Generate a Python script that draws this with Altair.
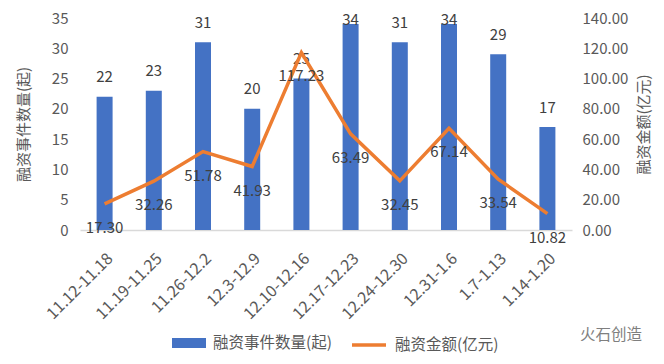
import altair as alt
import pandas as pd

weeks = ["11.12-11.18", "11.19-11.25", "11.26-12.2", "12.3-12.9", "12.10-12.16",
         "12.17-12.23", "12.24-12.30", "12.31-1.6", "1.7-1.13", "1.14-1.20"]
counts = [22, 23, 31, 20, 25, 34, 31, 34, 29, 17]
amounts = [17.30, 32.26, 51.78, 41.93, 117.23, 63.49, 32.45, 67.14, 33.54, 10.82]
series_names = ["融资事件数量(起)", "融资金额(亿元)"]
left_ticks = [0, 5, 10, 15, 20, 25, 30, 35]
right_ticks = [0, 20, 40, 60, 80, 100, 120, 140]

df = pd.DataFrame({"week": weeks, "count": counts, "amount": amounts,
                   "s_bar": series_names[0], "s_line": series_names[1]})

FONT = "Noto Sans CJK SC"
GRAY = "#595959"
BLUE = "#4472C4"
ORANGE = "#ED7D31"

x = alt.X("week:N", sort=weeks, title=None,
          scale=alt.Scale(paddingInner=0, paddingOuter=0),
          axis=alt.Axis(labelAngle=-45, labelFontSize=16, labelColor=GRAY,
                        ticks=False, domainColor="#D9D9D9", domainWidth=1.5,
                        labelPadding=20, labelFont=FONT, labelOverlap=False))

bar_legend = alt.Legend(
    title=None, orient="none", legendX=92, legendY=308, direction="horizontal",
    labelFontSize=15.5, labelColor=GRAY, labelFont=FONT, symbolSize=1156,
    symbolType="M-1,-0.3H1V0.3H-1Z", symbolStrokeWidth=0, labelOffset=7)
line_legend = alt.Legend(
    title=None, orient="none", legendX=270, legendY=308, direction="horizontal",
    labelFontSize=15.5, labelColor=GRAY, labelFont=FONT, symbolSize=1156,
    symbolType="stroke", symbolStrokeWidth=3.5, labelOffset=7)

left_scale = alt.Scale(domain=[0, 35], nice=False)
right_scale = alt.Scale(domain=[0, 140], nice=False)

left_axis = alt.Axis(values=left_ticks, grid=False, domain=False, ticks=False,
                     labelFontSize=15, labelColor=GRAY, labelPadding=12,
                     labelOverlap=False,
                     title="融资事件数量(起)", titleFontSize=15, titleColor=GRAY,
                     titleFontWeight="normal", titlePadding=20, titleFont=FONT,
                     labelFont=FONT)
right_axis = alt.Axis(orient="right", values=right_ticks, format=".2f", grid=False,
                      domain=False, ticks=False, labelFontSize=15, labelColor=GRAY,
                      labelPadding=10, labelOverlap=False,
                      title="融资金额(亿元)", titleFontSize=15,
                      titleColor=GRAY, titleFontWeight="normal", titlePadding=24,
                      titleAngle=270, titleFont=FONT, labelFont=FONT)

bars = alt.Chart(df).mark_bar(size=16).encode(
    x=x, y=alt.Y("count:Q", scale=left_scale, axis=left_axis),
    color=alt.Color("s_bar:N", scale=alt.Scale(domain=[series_names[0]], range=[BLUE]),
                    legend=bar_legend))
bar_text = alt.Chart(df).transform_calculate(
    label_y="min(datum.count, 31.5)"
).mark_text(fontSize=15, color="#404040", dy=-19.5, baseline="middle", font=FONT).encode(
    x=x, y=alt.Y("label_y:Q", scale=left_scale, axis=left_axis), text="count:Q")
left = alt.layer(bars, bar_text)

line = alt.Chart(df).mark_line(strokeWidth=3.5).encode(
    x=x, y=alt.Y("amount:Q", scale=right_scale, axis=right_axis),
    stroke=alt.Stroke("s_line:N", scale=alt.Scale(domain=[series_names[1]], range=[ORANGE]),
                      legend=line_legend))
line_text = alt.Chart(df).mark_text(fontSize=15, color="#404040", dy=24, baseline="middle",
                                    font=FONT).encode(
    x=x, y=alt.Y("amount:Q", scale=right_scale, axis=right_axis),
    text=alt.Text("amount:Q", format=".2f"))
right = alt.layer(line, line_text)

brand = alt.Chart(pd.DataFrame({"t": ["火石创造"]})).mark_text(
    fontSize=15.5, color="#7f7f7f", align="left", baseline="middle", font=FONT).encode(
    x=alt.value(500), y=alt.value(317), text="t:N")

chart = alt.layer(left, right, brand).resolve_scale(y="independent").properties(
    width=492, height=212,
    autosize=alt.AutoSizeParams(type="none"),
    padding={"left": 72, "top": 10, "right": 84, "bottom": 124},
).configure(font=FONT).configure_view(stroke=None)

chart.save("out.html", embed_options={"renderer": "svg", "actions": False})
